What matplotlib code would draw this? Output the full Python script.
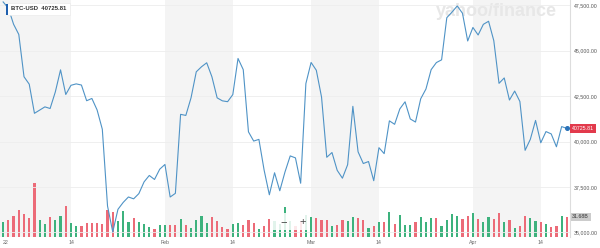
import matplotlib
matplotlib.use('Agg')

import matplotlib.pyplot as plt
import matplotlib.dates as mdates
import matplotlib.transforms as mtransforms
from matplotlib.patches import Rectangle
import pandas as pd

plt.rcParams['font.family'] = ['Liberation Sans', 'DejaVu Sans']

# Daily BTC-USD closes, Jan 1 .. Apr 19 2022
start_date = '2022-01-01'
closes = [
    # Jan
    47686, 47345, 46458, 45897, 43569, 43160, 41558, 41734, 41912, 41822,
    42736, 43949, 42592, 43099, 43177, 43113, 42250, 42375, 41744, 40681,
    36457, 35030, 36276, 36654, 36954, 36852, 37138, 37784, 38138, 37917, 38483,
    # Feb
    38743, 36952, 37154, 41501, 41441, 42412, 43841, 44118, 44338, 43565,
    42408, 42244, 42197, 42586, 44575, 43961, 40538, 40031, 40123, 38431,
    37075, 38286, 37296, 38332, 39214, 39105, 37710, 43194,
    # Mar
    44355, 43925, 42452, 39138, 39400, 38420, 37988, 38731, 41942, 39439,
    38795, 38905, 37850, 39666, 39339, 41143, 40952, 41802, 42191, 41247,
    41077, 42358, 42893, 43960, 44349, 44500, 46820, 47128, 47465, 47063, 45538,
    # Apr
    46281, 45868, 46453, 46622, 45555, 43207, 43503, 42287, 42782, 42207,
    39521, 40127, 41166, 39936, 40553, 40424, 39716, 40827, 40725.81,
]

# Daily volume in billions
volumes_b = [
    23.8, 27.5, 32.7, 42.2, 37.0, 30.1, 85.5, 27.5, 20.1, 31.7,
    26.4, 33.3, 48.6, 22.7, 16.9, 16.9, 22.2, 22.7, 22.7, 20.1,
    43.3, 39.6, 25.3, 41.2, 23.8, 30.6, 23.8, 21.1, 15.8, 13.2,
    19.5, 19.5, 18.5, 18.5, 29.0, 18.5, 14.8, 27.5, 32.7, 22.7,
    31.7, 25.3, 15.8, 13.2, 20.1, 22.2, 18.5, 26.4, 22.7, 13.2,
    16.9, 28.0, 25.0, 21.0, 47.5, 26.0, 17.0, 26.0, 35.0, 32.0,
    30.1, 26.4, 27.5, 16.9, 19.5, 27.5, 24.8, 31.7, 30.6, 26.4,
    14.3, 16.9, 23.8, 23.8, 39.6, 21.1, 34.3, 19.5, 19.5, 23.8,
    31.7, 23.8, 30.1, 30.1, 16.9, 27.5, 35.9, 32.7, 28.0, 32.7,
    38.0, 28.0, 23.8, 31.7, 29.0, 38.5, 23.8, 26.4, 14.8, 16.9,
    33.3, 30.6, 25.3, 23.8, 21.1, 15.8, 17.4, 33.3, 31.68,
]

# g = up day, r = down day
volume_dir = (
    "grrrrrrggr" "ggrggrrrrr" "rrgggrgggr" "ggrrgrgggg" "rrrrggrrrg" "rr"
    "ggggrrgg"
    "rrrgrrggrr" "grgrgrgggr" "gggrggggrr" "grggrrgrgr" "rggrgrrgr"
)

tick_dates = ['2022-01-01', '2022-01-14', '2022-02-01', '2022-02-14',
              '2022-03-01', '2022-03-14', '2022-04-01', '2022-04-14']
tick_labels = ['22', '14', 'Feb', '14', 'Mar', '14', 'Apr', '14']

shade_ranges = [('2021-12-31', '2022-01-14'), ('2022-02-01', '2022-02-14'),
                ('2022-03-01', '2022-03-14'), ('2022-04-01', '2022-04-14')]

price_ticks = [35000, 37500, 40000, 42500, 45000, 47500]
last_price = closes[-1]
last_volume = volumes_b[-1]

dates = pd.date_range(start_date, periods=len(closes), freq='D')
x = mdates.date2num(dates)
bar_colors = ['#3db27d' if c == 'g' else '#ec6b78' for c in volume_dir]

fig = plt.figure(figsize=(6, 2.48), dpi=100)
ax = fig.add_axes([0, 11 / 248, 570 / 600, 237 / 248])

# Half-month shading bands
for a, b in shade_ranges:
    ax.axvspan(mdates.datestr2num(a), mdates.datestr2num(b), color='#f4f4f4', lw=0, zorder=0)

ax.bar(x, volumes_b, width=0.42, color=bar_colors, zorder=2)
ax.set_ylim(0, 375)
ax.set_xlim(x[0] - 0.6, x[0] + 108.6)
ax.set_yticks([])
ax.set_xticks(mdates.datestr2num(tick_dates))
ax.set_xticklabels(tick_labels)
ax.tick_params(axis='x', length=0, labelsize=3.8, colors='#666666', pad=2.5)
# first label sits on the left edge, as in the source
ax.get_xticklabels()[0].set_horizontalalignment('left')
for s in ax.spines.values():
    s.set_visible(False)

# Watermark, kept below the price line
ax.text(496 / 600, 1 - 12 / 248, 'yahoo/finance', transform=fig.transFigure,
        fontsize=13, fontweight='bold', color='#e7e7e7', ha='center', va='center', zorder=1)

ax2 = ax.twinx()
ax2.plot(x, closes, color='#4f93c6', lw=0.8, zorder=3)
ax2.plot(x[-1], last_price, 'o', ms=2.6, color='#2a72b8', zorder=4)
ax2.set_ylim(34752, 47792)
ax2.set_yticks(price_ticks)
ax2.set_yticklabels([f'{p:,.2f}' for p in price_ticks])
ax2.tick_params(axis='y', length=0, labelsize=3.8, colors='#555555', pad=3)
ax2.yaxis.grid(True, color='#ededed', lw=0.6)
for name, s in ax2.spines.items():
    s.set_visible(name == 'right')
ax2.spines['right'].set_color('#dddddd')
ax2.spines['right'].set_linewidth(0.8)

# Current price and volume tags on the right edge
trans_p = mtransforms.blended_transform_factory(ax2.transAxes, ax2.transData)
ax2.text(1 + 2 / 570, last_price, f'{last_price:.2f}', transform=trans_p, ha='left', va='center',
         fontsize=3.8, color='white', clip_on=False,
         bbox=dict(boxstyle='square,pad=0.35', fc='#e23a4c', ec='none'))
trans_v = mtransforms.blended_transform_factory(ax.transAxes, ax.transData)
ax.text(1 + 2 / 570, last_volume, f'{last_volume:.2f}B', transform=trans_v, ha='left', va='center',
        fontsize=3.8, color='#333333', clip_on=False,
        bbox=dict(boxstyle='square,pad=0.35', fc='#cccccc', ec='none'))

# Zoom controls overlay
fig.add_artist(Rectangle((272 / 600, 1 - 230 / 248), 38 / 600, 17 / 248, transform=fig.transFigure,
                         fc='white', alpha=0.85, ec='none', zorder=5))
fig.text(284 / 600, 1 - 222 / 248, '\u2212', fontsize=8, color='#444444', ha='center', va='center', zorder=6)
fig.text(303 / 600, 1 - 222 / 248, '+', fontsize=8, color='#444444', ha='center', va='center', zorder=6)

# Ticker tooltip at top left
fig.text(11 / 600, 1 - 9 / 248, f'BTC-USD  {last_price:.2f}', fontsize=4.3, fontweight='bold',
         color='#333333', ha='left', va='center', zorder=6,
         bbox=dict(boxstyle='square,pad=0.6', fc='white', ec='#e8e8e8', lw=0.4))
fig.add_artist(Rectangle((5.5 / 600, 1 - 15 / 248), 2.5 / 600, 11 / 248, transform=fig.transFigure,
                         fc='#1f5fae', ec='none', zorder=7))

fig.savefig('out.png', dpi=100)
plt.close(fig)
